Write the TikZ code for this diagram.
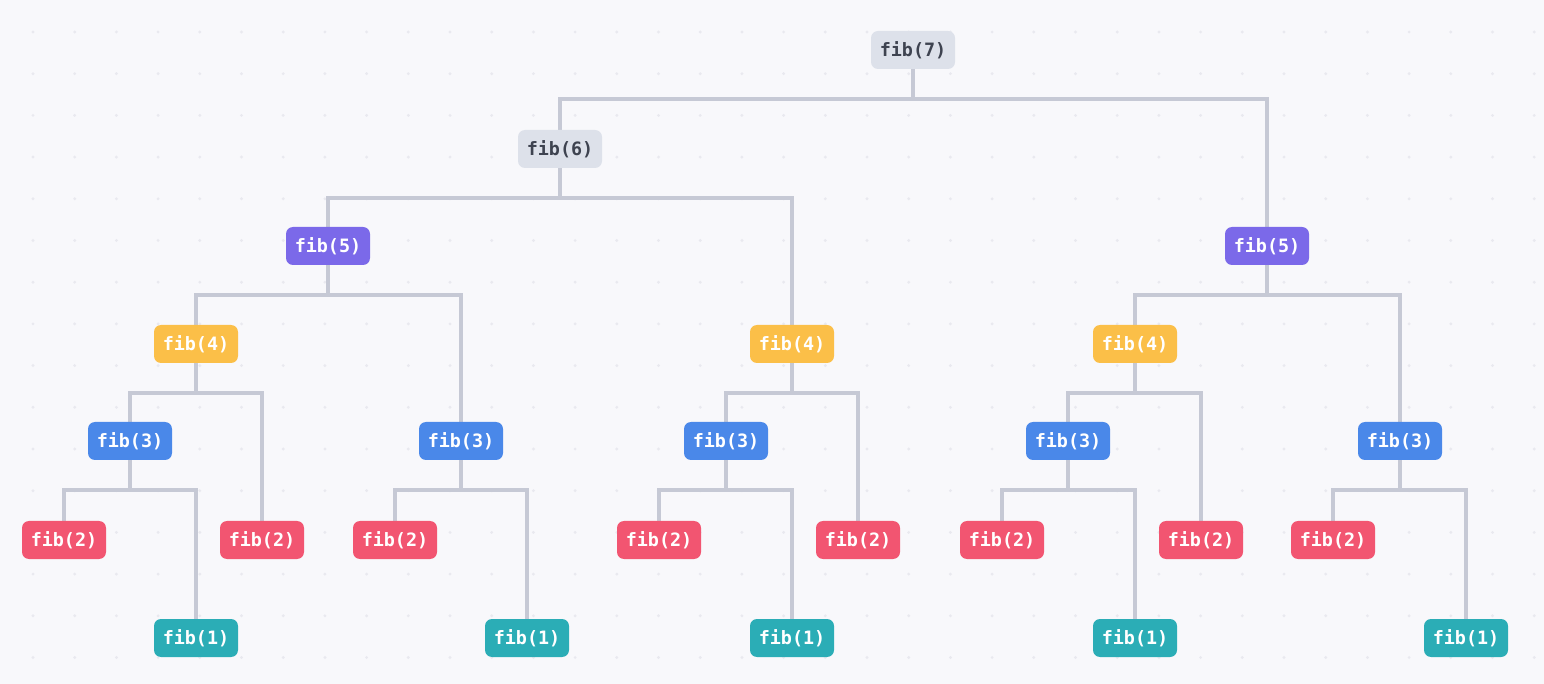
\documentclass[tikz,border=0pt]{standalone}
\usepackage{fontspec}
\setmonofont{DejaVu Sans Mono}
\usetikzlibrary{backgrounds,calc}
\definecolor{bgcol}{HTML}{F8F8FB}
\definecolor{dotcol}{HTML}{E9E9EF}
\definecolor{linecol}{HTML}{C6C9D5}
\definecolor{greycol}{HTML}{DDE1EA}
\definecolor{greytext}{HTML}{3E4350}
\definecolor{purplecol}{HTML}{7B69E9}
\definecolor{yellowcol}{HTML}{FBBF48}
\definecolor{bluecol}{HTML}{4A88E9}
\definecolor{redcol}{HTML}{F25571}
\definecolor{tealcol}{HTML}{2BADB6}
\tikzset{
  call/.style={rectangle, rounded corners=3.5pt, minimum width=42pt, minimum height=19pt,
    inner sep=0pt, text=white, font=\fontsize{9.2}{10}\selectfont\ttfamily\bfseries},
  edge/.style={draw=linecol, line width=2pt},
}
\begin{document}
\begin{tikzpicture}[x=0.5pt, y=-0.5pt]
			\useasboundingbox (0,0) rectangle (1544,684);
			% fib(7) and fib(6)
			\node[call, fill=greycol, text=greytext] (f7) at (913, 50) {fib(7)};
			\node[call, fill=greycol, text=greytext] (f6) at (560, 149) {fib(6)};
			% fib(5)
			\node[call, fill=purplecol] (f5a) at (328, 246) {fib(5)};
			\node[call, fill=purplecol] (f5b) at (1267, 246) {fib(5)};
			% fib(4)
			\node[call, fill=yellowcol] (f4a) at (196, 344) {fib(4)};
			\node[call, fill=yellowcol] (f4b) at (792, 344) {fib(4)};
			\node[call, fill=yellowcol] (f4c) at (1135, 344) {fib(4)};
			% fib(3)
			\node[call, fill=bluecol] (f3a) at (130, 441) {fib(3)};
			\node[call, fill=bluecol] (f3b) at (461, 441) {fib(3)};
			\node[call, fill=bluecol] (f3c) at (726, 441) {fib(3)};
			\node[call, fill=bluecol] (f3d) at (1068, 441) {fib(3)};
			\node[call, fill=bluecol] (f3e) at (1400, 441) {fib(3)};
			% fib(2)
			\node[call, fill=redcol] (f2a) at (64, 540) {fib(2)};
			\node[call, fill=redcol] (f2b) at (262, 540) {fib(2)};
			\node[call, fill=redcol] (f2c) at (395, 540) {fib(2)};
			\node[call, fill=redcol] (f2d) at (659, 540) {fib(2)};
			\node[call, fill=redcol] (f2e) at (858, 540) {fib(2)};
			\node[call, fill=redcol] (f2f) at (1002, 540) {fib(2)};
			\node[call, fill=redcol] (f2g) at (1201, 540) {fib(2)};
			\node[call, fill=redcol] (f2h) at (1333, 540) {fib(2)};
			% fib(1)
			\node[call, fill=tealcol] (f1a) at (196, 638) {fib(1)};
			\node[call, fill=tealcol] (f1b) at (527, 638) {fib(1)};
			\node[call, fill=tealcol] (f1c) at (792, 638) {fib(1)};
			\node[call, fill=tealcol] (f1d) at (1135, 638) {fib(1)};
			\node[call, fill=tealcol] (f1e) at (1466, 638) {fib(1)};
			% background and calls
			\begin{scope}[on background layer]
				\fill[bgcol] (0,0) rectangle (1544,684);
				\foreach \i in {0,...,36} {
					\foreach \j in {0,...,15} {
						\fill[dotcol] (33+41.7*\i, 32+41.7*\j) circle (1.6);
					}
				}
				\foreach \p/\a/\b in {f7/f6/f5b, f6/f5a/f4b, f5a/f4a/f3b, f5b/f4c/f3e,
					f4a/f3a/f2b, f4b/f3c/f2e, f4c/f3d/f2g,
					f3a/f2a/f1a, f3b/f2c/f1b, f3c/f2d/f1c, f3d/f2f/f1d, f3e/f2h/f1e} {
					\draw[edge] (\a.center) |- ($(\p.center)+(0,49)$) -| (\b.center);
					\draw[edge] (\p.center) -- ++(0,49);
				}
			\end{scope}
		\end{tikzpicture}
\end{document}
